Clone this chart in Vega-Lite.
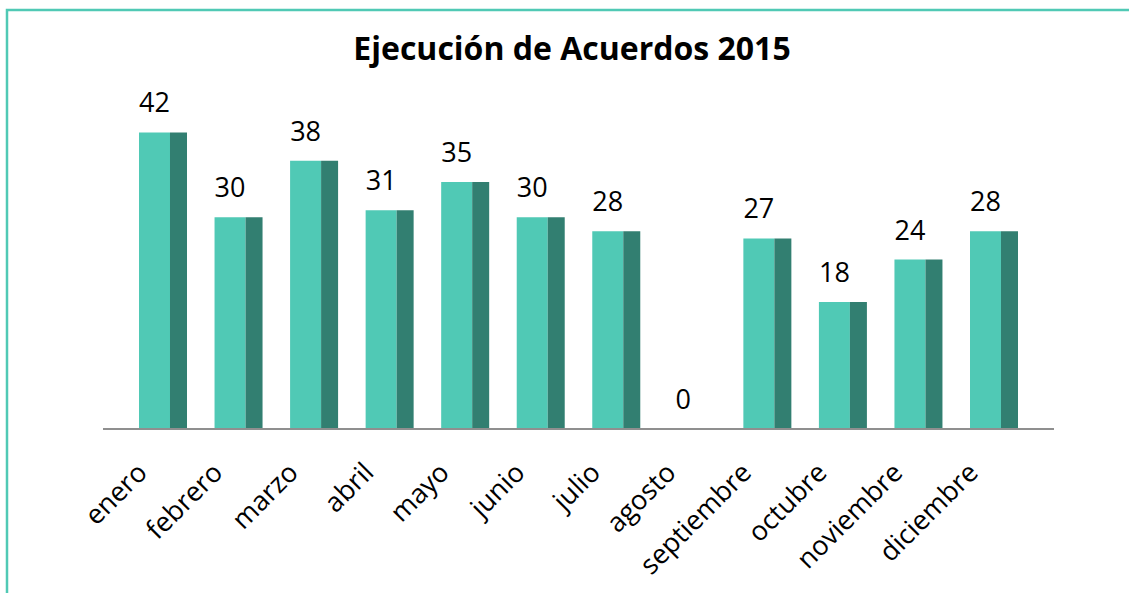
{
  "$schema": "https://vega.github.io/schema/vega-lite/v6.json",
  "width": 1130,
  "height": 590,
  "autosize": {"type": "none"},
  "padding": {"left": 7, "top": 10, "right": 0, "bottom": 0},
  "background": "white",
  "config": {"view": {"stroke": "#50C9B5", "strokeWidth": 2.5}, "font": "Open Sans"},
  "title": {"text": "Ejecución de Acuerdos 2015", "font": "Open Sans", "fontSize": 32, "fontWeight": "bold", "color": "black", "anchor": "middle", "baseline": "alphabetic", "offset": -82},
  "data": {"values": [
    {"mes": "enero", "acuerdos": 42},
    {"mes": "febrero", "acuerdos": 30},
    {"mes": "marzo", "acuerdos": 38},
    {"mes": "abril", "acuerdos": 31},
    {"mes": "mayo", "acuerdos": 35},
    {"mes": "junio", "acuerdos": 30},
    {"mes": "julio", "acuerdos": 28},
    {"mes": "agosto", "acuerdos": 0},
    {"mes": "septiembre", "acuerdos": 27},
    {"mes": "octubre", "acuerdos": 18},
    {"mes": "noviembre", "acuerdos": 24},
    {"mes": "diciembre", "acuerdos": 28}
  ]},
  "encoding": {
    "x": {
      "field": "mes", "type": "nominal",
      "scale": {"domain": ["enero","febrero","marzo","abril","mayo","junio","julio","agosto","septiembre","octubre","noviembre","diciembre"], "range": [132, 1011], "paddingInner": 0.3647, "paddingOuter": 0},
      "axis": {"title": null, "domain": false, "ticks": false, "tickSize": 0, "labelAngle": -45, "labelAlign": "right", "labelBaseline": "middle", "labelFont": "Open Sans", "labelFontSize": 27, "labelColor": "black", "labelPadding": 39, "labelOffset": -20, "offset": -171, "labelOverlap": false, "labelBound": false}
    },
    "y": {"field": "acuerdos", "type": "quantitative", "scale": {"domain": [0, 50], "range": [419, 66]}, "axis": null}
  },
  "layer": [
    {"mark": {"type": "bar", "width": 31, "xOffset": -8.5, "color": "#50C9B5"}},
    {"mark": {"type": "bar", "width": 17, "xOffset": 15.5, "color": "#327F71"}},
    {"mark": {"type": "text", "xOffset": -8.5, "dy": -20, "baseline": "alphabetic", "font": "Open Sans", "fontSize": 27, "color": "black"},
     "encoding": {"text": {"field": "acuerdos", "type": "quantitative"}}},
    {"data": {"values": [{"desde": "enero", "hasta": "diciembre", "base": 0}]},
     "mark": {"type": "rule", "color": "#8F8F8F", "strokeWidth": 2.2, "xOffset": -60, "x2Offset": 60},
     "encoding": {"x": {"field": "desde", "type": "nominal"}, "x2": {"field": "hasta"}, "y": {"field": "base", "type": "quantitative"}}}
  ]
}
